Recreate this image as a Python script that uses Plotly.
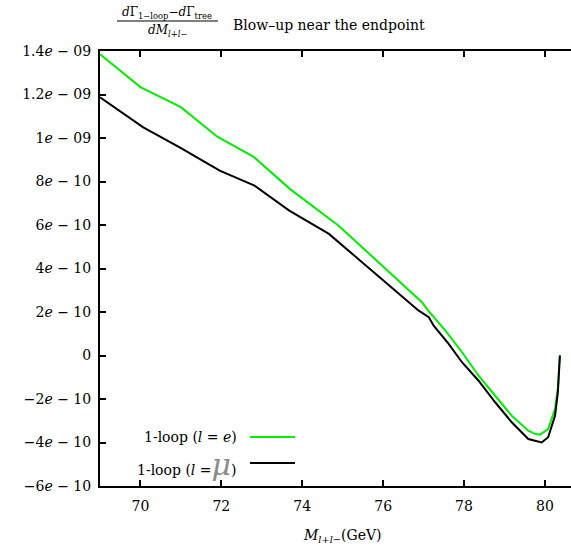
import plotly.graph_objects as go

# Invariant-mass grid (GeV) and differential width differences
x_e = [69.0, 70.0, 71.0, 71.9, 72.8, 73.7, 74.9, 75.9, 76.96, 77.1, 77.33, 77.45,
       77.54, 77.95, 78.36, 78.77, 79.18, 79.59, 79.75, 79.88, 80.08, 80.25, 80.32, 80.37]
y_e = [1.385e-9, 1.234e-9, 1.142e-9, 1.006e-9, 0.913e-9, 0.765e-9, 0.597e-9, 0.428e-9,
       0.245e-9, 0.21e-9, 0.16e-9, 0.13e-9, 0.114e-9, 0.015e-9, -0.093e-9, -0.185e-9,
       -0.277e-9, -0.346e-9, -0.36e-9, -0.364e-9, -0.338e-9, -0.246e-9, -0.15e-9, 0.0]

x_mu = [69.0, 70.07, 70.97, 71.96, 72.82, 73.68, 74.66, 75.9, 76.88, 77.13, 77.25, 77.62,
        77.95, 78.36, 78.77, 79.18, 79.59, 79.92, 80.08, 80.25, 80.32, 80.37]
y_mu = [1.187e-9, 1.049e-9, 0.957e-9, 0.85e-9, 0.781e-9, 0.666e-9, 0.559e-9, 0.36e-9,
        0.206e-9, 0.176e-9, 0.137e-9, 0.053e-9, -0.031e-9, -0.116e-9, -0.215e-9,
        -0.307e-9, -0.384e-9, -0.400e-9, -0.376e-9, -0.277e-9, -0.17e-9, 0.0]

y_tickvals = [-6e-10, -4e-10, -2e-10, 0, 2e-10, 4e-10, 6e-10, 8e-10, 1e-9, 1.2e-9, 1.4e-9]
y_ticktext = ["−6<i>e</i> − 10", "−4<i>e</i> − 10", "−2<i>e</i> − 10", "0",
              "2<i>e</i> − 10", "4<i>e</i> − 10", "6<i>e</i> − 10", "8<i>e</i> − 10",
              "1<i>e</i> − 09", "1.2<i>e</i> − 09", "1.4<i>e</i> − 09"]
x_tickvals = [70, 72, 74, 76, 78, 80]

FONT = "DejaVu Serif"
W, H = 571, 549
L, R, T, B = 100, 0, 51, 63
pw, ph = W - L - R, H - T - B


def px(x):
    return (x - L) / pw


def py(y):
    return (H - B - y) / ph


fig = go.Figure()
fig.add_trace(go.Scatter(x=x_e, y=y_e, mode="lines",
                         line=dict(color="#00ee00", width=2), showlegend=False))
fig.add_trace(go.Scatter(x=x_mu, y=y_mu, mode="lines",
                         line=dict(color="black", width=2), showlegend=False))

annotations = [
    # title: fraction + caption
    dict(text="<i>d</i>Γ<sub>1−loop</sub>−<i>d</i>Γ<sub>tree</sub>", x=px(167), y=py(13),
         xanchor="center", yanchor="middle", font=dict(size=12)),
    dict(text="<i>dM</i><sub><i>l</i>+<i>l</i>−</sub>", x=px(167), y=py(31),
         xanchor="center", yanchor="middle", font=dict(size=12)),
    dict(text="Blow–up near the endpoint", x=px(231), y=py(25),
         xanchor="left", yanchor="middle", font=dict(size=14)),
    # x-axis label
    dict(text="<i>M</i><sub><i>l</i>+<i>l</i>−</sub>(GeV)", x=px(342), y=py(536),
         xanchor="center", yanchor="middle", font=dict(size=14)),
    # legend entries
    dict(text="1-loop (<i>l</i> = <i>e</i>)", x=px(239), y=py(437),
         xanchor="right", yanchor="middle", font=dict(size=14)),
    dict(text="1-loop (<i>l</i> =<span style='color:#8a8a8a;font-size:30px'><i>μ</i></span>)",
         x=px(239), y=py(464), xanchor="right", yanchor="middle", font=dict(size=14)),
]
for a in annotations:
    a.update(xref="paper", yref="paper", showarrow=False)
    a["font"].update(family=FONT, color="black")

shapes = [
    dict(type="line", x0=px(117), x1=px(218), y0=py(21), y1=py(21),
         line=dict(color="black", width=1)),
    dict(type="line", x0=px(250), x1=px(295), y0=py(437), y1=py(437),
         line=dict(color="#00ee00", width=2)),
    dict(type="line", x0=px(250), x1=px(295), y0=py(463), y1=py(463),
         line=dict(color="black", width=2)),
]
for s in shapes:
    s.update(xref="paper", yref="paper")

fig.update_layout(
    width=W, height=H,
    margin=dict(l=L, r=R, t=T, b=B, pad=0),
    paper_bgcolor="white", plot_bgcolor="white",
    font=dict(family=FONT, size=14, color="black"),
    annotations=annotations, shapes=shapes,
    xaxis=dict(range=[69.0, 80.645], tickvals=x_tickvals, ticks="inside", ticklen=6,
               tickwidth=1.5, tickcolor="black", showline=True, linecolor="black",
               linewidth=2, mirror="ticks", showgrid=False, zeroline=False,
               ticklabelstandoff=6, tickfont=dict(family=FONT, size=14)),
    yaxis=dict(range=[-6e-10, 1.4e-9], tickvals=y_tickvals, ticktext=y_ticktext,
               ticks="inside", ticklen=6, tickwidth=1.5, tickcolor="black",
               showline=True, linecolor="black", linewidth=2, showgrid=False,
               zeroline=False, ticklabelstandoff=4, tickfont=dict(family=FONT, size=14)),
)

fig.write_html("out.html")
